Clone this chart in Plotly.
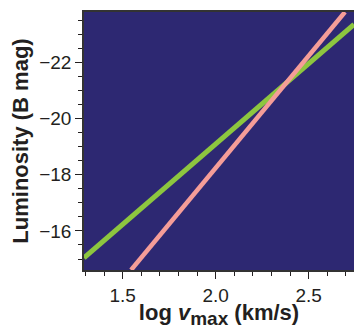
import plotly.graph_objects as go

# Data
x_green = [1.292, 2.7435]
y_green = [-15.04, -23.35]
x_pink = [1.545, 2.695]
y_pink = [-14.61, -23.79]

x_range = [1.292, 2.7435]
y_range = [-14.61, -23.79]
x_tickvals = [1.5, 2.0, 2.5]
x_ticktext = ["1.5", "2.0", "2.5"]
y_tickvals = [-22, -20, -18, -16]
y_ticktext = ["\u221222", "\u221220", "\u221218", "\u221216"]

BG = "#2d2872"
GREEN = "#8dc63f"
PINK = "#f59d98"
FONT = "Liberation Sans, Arial, sans-serif"
TXT = "#231f20"

fig = go.Figure()
fig.add_trace(go.Scatter(x=x_green, y=y_green, mode="lines",
                         line=dict(color=GREEN, width=5), showlegend=False))
fig.add_trace(go.Scatter(x=x_pink, y=y_pink, mode="lines",
                         line=dict(color=PINK, width=4.5), showlegend=False))

fig.update_layout(
    width=354, height=329,
    margin=dict(l=84, r=0, t=12, b=59, autoexpand=False),
    paper_bgcolor="white", plot_bgcolor=BG,
    font=dict(family=FONT, color=TXT),
)
fig.update_xaxes(
    range=x_range, tickvals=x_tickvals, ticktext=x_ticktext,
    ticks="outside", ticklen=7, tickwidth=1, tickcolor=TXT,
    minor=dict(dtick=0.1, tick0=0, ticks="outside", ticklen=4, tickcolor=TXT, showgrid=False),
    showgrid=False, zeroline=False, automargin=False,
    showline=True, linecolor="#333333", linewidth=1.5, mirror=True,
    tickfont=dict(size=19, family=FONT, color=TXT),
    title=dict(text="<b>log <i>v</i><sub><span style='font-size:19px'>max</span></sub> (km/s)</b>",
               font=dict(size=22, family=FONT, color=TXT), standoff=2),
)
fig.update_yaxes(
    range=y_range, tickvals=y_tickvals, ticktext=y_ticktext,
    ticks="outside", ticklen=7, tickwidth=1, tickcolor=TXT,
    minor=dict(dtick=0.5, tick0=0, ticks="outside", ticklen=4, tickcolor=TXT, showgrid=False),
    showgrid=False, zeroline=False, automargin=False,
    showline=True, linecolor="#333333", linewidth=1.5, mirror=True,
    tickfont=dict(size=19, family=FONT, color=TXT),
    title=dict(text="<b>Luminosity (B mag)</b>", font=dict(size=22, family=FONT, color=TXT), standoff=5),
)

fig.write_html("out.html", config={"displayModeBar": False},
               post_script="document.body.style.margin='0';document.body.style.overflow='hidden';")
